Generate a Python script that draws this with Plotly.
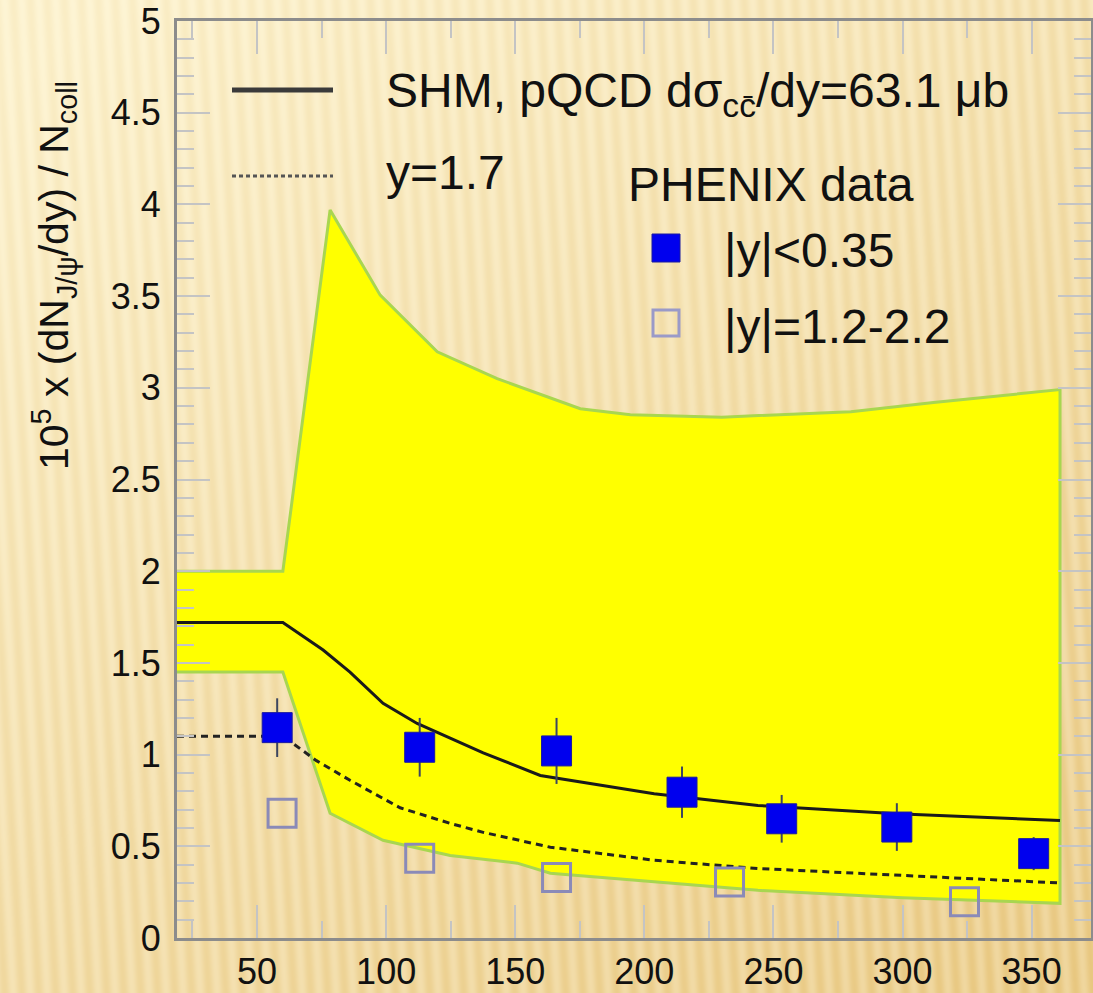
import base64
import struct
import zlib

import numpy as np
import plotly.graph_objects as go

# ---------------- data ----------------
solid_x = [19, 60, 75.6, 86, 98.8, 112, 124.8, 137.6, 159.7, 180, 203.8, 244, 297.8, 361]
solid_y = [1.72, 1.72, 1.57, 1.45, 1.28, 1.17, 1.09, 1.01, 0.886, 0.84, 0.786, 0.723, 0.678, 0.64]

dashed_x = [19, 60, 64, 73, 86, 105.4, 124.8, 137.6, 163.6, 203.8, 244, 297.8, 361]
dashed_y = [1.10, 1.10, 1.06, 0.967, 0.86, 0.71, 0.625, 0.576, 0.495, 0.424, 0.379, 0.342, 0.30]

band_upper_x = [19, 60, 78.3, 97.7, 119.8, 143, 175.2, 194.6, 230, 280, 312, 361]
band_upper_y = [2.0, 2.0, 3.97, 3.505, 3.196, 3.05, 2.886, 2.853, 2.84, 2.87, 2.92, 2.99]
band_lower_x = [19, 60, 78.3, 98.8, 124.8, 150.8, 163.6, 244, 300, 361]
band_lower_y = [1.45, 1.45, 0.68, 0.533, 0.45, 0.408, 0.353, 0.26, 0.22, 0.189]

mid_x = [57.8, 113, 166, 214.6, 253.2, 297.8, 350.8]
mid_y = [1.147, 1.04, 1.02, 0.795, 0.65, 0.605, 0.46]
mid_err = [0.16, 0.16, 0.18, 0.14, 0.13, 0.13, 0.09]

fwd_x = [59.7, 113, 166, 233, 324]
fwd_y = [0.68, 0.435, 0.33, 0.306, 0.197]

x_range = [19, 373]
y_range = [0, 5]

# ---------------- slide-like striped background (PNG data URI) ----------------
def make_background(W=1093, H=993):
    yy, xx = np.mgrid[0:H, 0:W].astype(float)
    t = np.clip(0.62 * yy / H + 0.45 * xx / W - 0.05, 0, 1)
    light = np.array([252.0, 241.0, 205.0])
    dark = np.array([236.0, 207.0, 143.0])
    img = light + (dark - light) * t[..., None]
    s = np.sin(2 * np.pi * (xx - 0.06 * yy) / 17.0)
    img += s[..., None] * np.array([3.0, 6.0, 12.0]) * (0.6 + 0.6 * t[..., None])
    img = np.clip(img, 0, 255).astype(np.uint8)
    raw = bytearray()
    prev = np.zeros_like(img[0])
    for y in range(H):
        row = img[y]
        raw.append(2)  # Up filter
        raw.extend(((row.astype(np.int16) - prev.astype(np.int16)) % 256).astype(np.uint8).tobytes())
        prev = row

    def chunk(tag, data):
        c = struct.pack(">I", len(data)) + tag + data
        return c + struct.pack(">I", zlib.crc32(tag + data) & 0xFFFFFFFF)

    png = (b"\x89PNG\r\n\x1a\n"
           + chunk(b"IHDR", struct.pack(">IIBBBBB", W, H, 8, 2, 0, 0, 0))
           + chunk(b"IDAT", zlib.compress(bytes(raw), 9))
           + chunk(b"IEND", b""))
    return "data:image/png;base64," + base64.b64encode(png).decode()


FIG_W, FIG_H = 1093, 993
M_L, M_R, M_T, M_B = 177, 2, 21, 55
PW = FIG_W - M_L - M_R
PH = FIG_H - M_T - M_B


def px2paper(px, py):
    return (px - M_L) / PW, (FIG_H - M_B - py) / PH


FONT = "Liberation Sans, Arial, sans-serif"

fig = go.Figure()

# band
fig.add_trace(go.Scatter(
    x=band_upper_x + band_lower_x[::-1],
    y=band_upper_y + band_lower_y[::-1],
    fill="toself", fillcolor="#FFFF00",
    line=dict(color="#a8d650", width=3),
    mode="lines", hoverinfo="skip", showlegend=False))

# y=1.7 dashed
fig.add_trace(go.Scatter(x=dashed_x, y=dashed_y, mode="lines",
                         line=dict(color="#222222", width=3, dash="7px,5px"),
                         showlegend=False))
# SHM solid
fig.add_trace(go.Scatter(x=solid_x, y=solid_y, mode="lines",
                         line=dict(color="#1a1a1a", width=3),
                         showlegend=False))
# |y|=1.2-2.2 open squares
fig.add_trace(go.Scatter(x=fwd_x, y=fwd_y, mode="markers",
                         marker=dict(symbol="square-open", size=28,
                                     color="#8a8ab8", line=dict(width=3, color="#8a8ab8")),
                         showlegend=False))
# |y|<0.35 filled squares
fig.add_trace(go.Scatter(x=mid_x, y=mid_y, mode="markers",
                         error_y=dict(type="data", array=mid_err, visible=True,
                                      color="#3c4660", thickness=2, width=0),
                         marker=dict(symbol="square", size=30, color="#0000ee",
                                     line=dict(width=1, color="#1a1aa0")),
                         showlegend=False))

# ---------------- manual legend ----------------
shapes = []
ax0, ay = px2paper(232, 90)
ax1, _ = px2paper(333, 90)
shapes.append(dict(type="line", xref="paper", yref="paper", x0=ax0, x1=ax1, y0=ay, y1=ay,
                   line=dict(color="#3a3a3a", width=5)))
ax0, ay = px2paper(232, 176)
shapes.append(dict(type="line", xref="paper", yref="paper", x0=ax0, x1=ax1, y0=ay, y1=ay,
                   line=dict(color="#555555", width=3, dash="4px,3px")))
# legend squares
for cx, cy, filled in [(666, 248, True), (666, 323, False)]:
    half = 14 if filled else 13
    x0, y0 = px2paper(cx - half, cy + half)
    x1, y1 = px2paper(cx + half, cy - half)
    if filled:
        shapes.append(dict(type="rect", xref="paper", yref="paper", x0=x0, x1=x1, y0=y0, y1=y1,
                           fillcolor="#0000ee", line=dict(color="#1a1aa0", width=1)))
    else:
        shapes.append(dict(type="rect", xref="paper", yref="paper", x0=x0, x1=x1, y0=y0, y1=y1,
                           fillcolor="rgba(0,0,0,0)", line=dict(color="#9a9ac8", width=3)))

annotations = []
def add_text(px, py, text, size, xanchor="left"):
    x, y = px2paper(px, py)
    annotations.append(dict(xref="paper", yref="paper", x=x, y=y, text=text,
                            showarrow=False, xanchor=xanchor, yanchor="middle",
                            font=dict(family=FONT, size=size, color="#111111")))

add_text(384, 94, "SHM, pQCD dσ<sub>cc̄</sub>/dy=63.1 μb", 48)
add_text(384, 172, "y=1.7", 48)
add_text(626, 184, "PHENIX data", 48)
add_text(722, 250, "|y|&lt;0.35", 48)
add_text(722, 326, "|y|=1.2-2.2", 48)

tx, ty = px2paper(54, 276)
annotations.append(dict(xref="paper", yref="paper", x=tx, y=ty,
                        text="10<sup>5</sup> x (dN<sub>J/ψ</sub>/dy) / N<sub>coll</sub>",
                        textangle=-90, showarrow=False, xanchor="center", yanchor="middle",
                        font=dict(family=FONT, size=41, color="#111111")))

bg = make_background(FIG_W, FIG_H)
bx, by = px2paper(0, 0)
images = [dict(source=bg, xref="paper", yref="paper", x=bx, y=by,
               sizex=FIG_W / PW, sizey=FIG_H / PH, xanchor="left", yanchor="top",
               sizing="stretch", layer="below")]

axis_common = dict(showgrid=False, zeroline=False, showline=True, linecolor="#8c8c8c",
                   linewidth=3, ticks="inside", ticklen=33, tickwidth=2,
                   tickcolor="#c4c4c4", mirror="allticks",
                   tickfont=dict(family=FONT, size=36, color="#111111"))

fig.update_layout(
    width=FIG_W, height=FIG_H,
    margin=dict(l=M_L, r=M_R, t=M_T, b=M_B, autoexpand=False),
    paper_bgcolor="rgba(0,0,0,0)", plot_bgcolor="rgba(0,0,0,0)",
    showlegend=False,
    xaxis=dict(range=x_range, tick0=0, dtick=50, ticklabelstandoff=0,
               minor=dict(ticks="inside", ticklen=17, tickwidth=2, tickcolor="#c4c4c4",
                          tick0=25, dtick=50),
               **axis_common),
    yaxis=dict(range=y_range, tick0=0, dtick=0.5, ticklabelstandoff=6,
               minor=dict(ticks="inside", ticklen=17, tickwidth=2, tickcolor="#c4c4c4",
                          dtick=0.1),
               **axis_common),
    shapes=shapes, annotations=annotations, images=images,
)

fig.write_html("out.html")
